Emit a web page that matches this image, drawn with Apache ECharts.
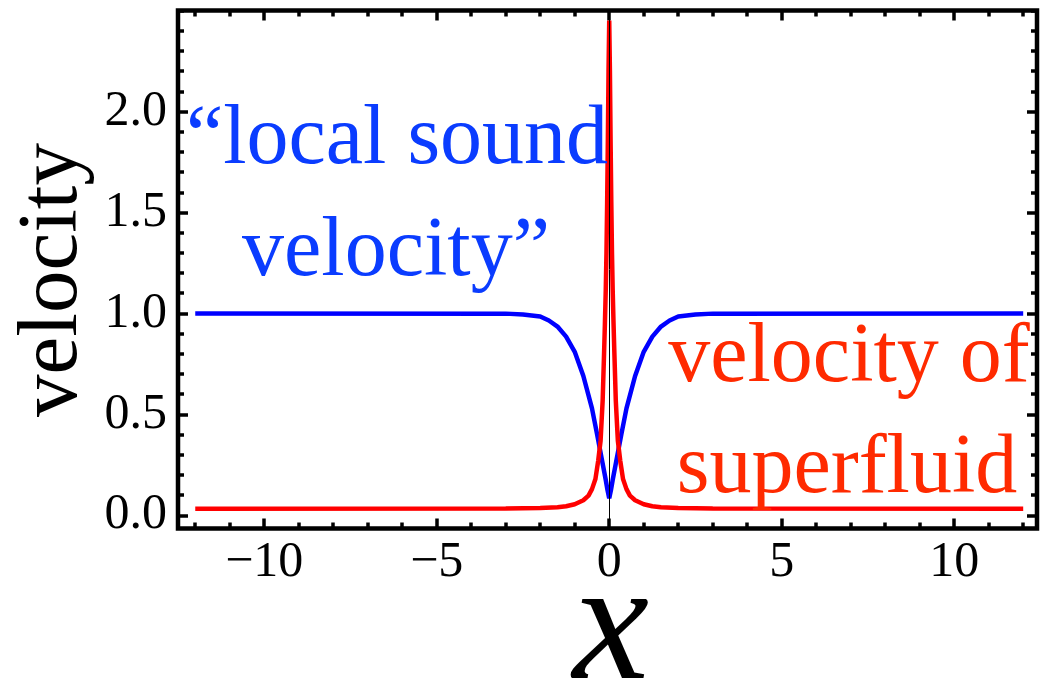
<!DOCTYPE html>
<html>
<head>
<meta charset="utf-8">
<script src="https://cdn.jsdelivr.net/npm/echarts@6/dist/echarts.min.js"></script>
<style>
html,body{margin:0;padding:0;background:#fff;}
#chart{width:1041px;height:683px;}
</style>
</head>
<body>
<div id="chart"></div>
<script>
// Sound velocity ("local sound velocity") – blue
const xBlue = [-12, -3, -2.5, -2, -1.75, -1.5, -1.25, -1, -0.75, -0.5, -0.35, -0.2, -0.1, -0.05, 0,
               0.05, 0.1, 0.2, 0.35, 0.5, 0.75, 1, 1.25, 1.5, 1.75, 2, 2.5, 3, 12];
const yBlue = [1.0, 0.999, 0.995, 0.985, 0.965, 0.935, 0.885, 0.81, 0.69, 0.53, 0.40, 0.265, 0.175, 0.125, 0.085,
               0.125, 0.175, 0.265, 0.40, 0.53, 0.69, 0.81, 0.885, 0.935, 0.965, 0.985, 0.995, 0.999, 1.0];
// Superfluid velocity – red
const xRed = [-12, -3, -2, -1.5, -1.25, -1, -0.75, -0.6, -0.5, -0.4, -0.32, -0.25, -0.19, -0.15, -0.125, -0.1, -0.08, -0.06, -0.04, -0.02, 0,
              0.02, 0.04, 0.06, 0.08, 0.1, 0.125, 0.15, 0.19, 0.25, 0.32, 0.4, 0.5, 0.6, 0.75, 1, 1.25, 1.5, 2, 3, 12];
const yRed = [0.033, 0.034, 0.036, 0.04, 0.045, 0.055, 0.075, 0.098, 0.13, 0.18, 0.27, 0.37, 0.57, 0.80, 0.95, 1.12, 1.30, 1.55, 1.85, 2.2, 2.45,
              2.2, 1.85, 1.55, 1.30, 1.12, 0.95, 0.80, 0.57, 0.37, 0.27, 0.18, 0.13, 0.098, 0.075, 0.055, 0.045, 0.04, 0.036, 0.034, 0.033];

const xTicks = [-10, -5, 0, 5, 10];
const yTicks = [0, 0.5, 1, 1.5, 2];
const xMinor = [];
for (let v = -12; v <= 12; v++) xMinor.push(v);
const yMinor = [];
for (let i = 0; i <= 25; i++) yMinor.push(+(i * 0.1).toFixed(1));

const blueLabel = ['\u201Clocal sound', 'velocity\u201D'];
const redLabel = ['velocity of', 'superfluid'];
const yTitle = 'velocity';
const xTitle = 'x';

const FONT = 'Liberation Serif';
const XMIN = -12.5, XMAX = 12.4, YMIN = -0.065, YMAX = 2.5;

function xAxisDef(pos, custom, len, labels) {
  return {
    type: 'value', min: XMIN, max: XMAX, position: pos, gridIndex: 0,
    axisLine: { show: false, onZero: false }, splitLine: { show: false },
    axisTick: { show: true, inside: true, length: len, customValues: custom, lineStyle: { color: '#000', width: 3.5 } },
    axisLabel: labels ? {
      show: true, customValues: custom, margin: 9, color: '#000', fontFamily: FONT, fontSize: 50,
      formatter: v => String(v).replace('-', '\u2212')
    } : { show: false }
  };
}
function yAxisDef(pos, custom, len, labels) {
  return {
    type: 'value', min: YMIN, max: YMAX, position: pos, gridIndex: 0,
    axisLine: { show: false, onZero: false }, splitLine: { show: false },
    axisTick: { show: true, inside: true, length: len, customValues: custom, lineStyle: { color: '#000', width: 3.5 } },
    axisLabel: labels ? {
      show: true, customValues: custom, margin: 11, color: '#000', fontFamily: FONT, fontSize: 50,
      formatter: v => v.toFixed(1)
    } : { show: false }
  };
}
function txt(text, x, y, size, color, extra, styleExtra) {
  return Object.assign({
    type: 'text', x: x, y: y, z: 20,
    style: Object.assign({ text: text, fill: color, fontFamily: FONT, fontSize: size, align: 'center', verticalAlign: 'middle' }, styleExtra || {})
  }, extra || {});
}

const chart = echarts.init(document.getElementById('chart'), null, { renderer: 'canvas' });
chart.setOption({
  animation: false,
  backgroundColor: '#fff',
  grid: { left: 178, top: 10.5, width: 859, height: 518, show: true, borderColor: '#000', borderWidth: 4.5, backgroundColor: 'transparent', containLabel: false, outerBoundsMode: 'none' },
  xAxis: [
    xAxisDef('bottom', xTicks, 10, true),
    xAxisDef('bottom', xMinor, 6, false),
    xAxisDef('top', xTicks, 10, false),
    xAxisDef('top', xMinor, 6, false)
  ],
  yAxis: [
    yAxisDef('left', yTicks, 10, true),
    yAxisDef('left', yMinor, 6, false),
    yAxisDef('right', yTicks, 10, false),
    yAxisDef('right', yMinor, 6, false)
  ],
  series: [
    {
      type: 'line', xAxisIndex: 0, yAxisIndex: 0, showSymbol: false, symbol: 'none', z: 3,
      data: xBlue.map((x, i) => [x, yBlue[i]]),
      lineStyle: { color: '#0000ff', width: 4.5 }
    },
    {
      type: 'line', xAxisIndex: 0, yAxisIndex: 0, showSymbol: false, symbol: 'none', z: 4,
      data: xRed.map((x, i) => [x, yRed[i]]),
      lineStyle: { color: '#ff0000', width: 4.5 }
    },
    {
      type: 'line', xAxisIndex: 0, yAxisIndex: 0, data: [], z: 10,
      markLine: {
        silent: true, symbol: ['none', 'none'], label: { show: false },
        lineStyle: { color: '#000', width: 1, type: 'solid' },
        data: [{ xAxis: 0 }]
      }
    }
  ],
  graphic: [
    txt(blueLabel[0], 397, 141, 84, '#0a3cff'),
    txt(blueLabel[1], 396, 253, 84, '#0a3cff'),
    txt(redLabel[0], 849, 359, 84, '#ff2a00'),
    txt(redLabel[1], 847, 470, 84, '#ff2a00'),
    txt(yTitle, 54, 280, 85, '#000', { rotation: Math.PI / 2 }),
    txt(xTitle, 611, 633, 172, '#000', null, { fontStyle: 'italic' })
  ]
});
</script>
</body>
</html>
